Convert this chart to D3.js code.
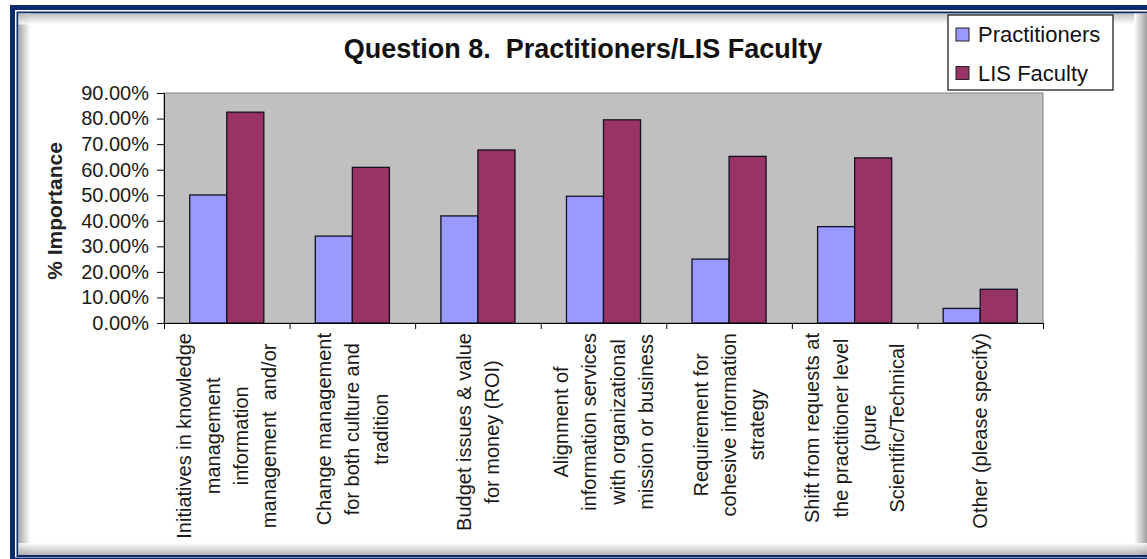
<!DOCTYPE html>
<html>
<head>
<meta charset="utf-8">
<script src="https://cdn.jsdelivr.net/npm/d3@7"></script>
<style>
  html, body { margin: 0; padding: 0; background: #fff; }
  svg { display: block; font-family: Arial, "Liberation Sans", sans-serif; }
</style>
</head>
<body>
<script>
const width = 1147;
const height = 559;

// chart data
const categories = [
    ["Initiatives in knowledge", "management", "information", "management\u00a0 and/or"],
    ["Change management", "for both culture and", "tradition"],
    ["Budget issues & value", "for money (ROI)"],
    ["Alignment of", "information services", "with organizational", "mission or business"],
    ["Requirement for", "cohesive information", "strategy"],
    ["Shift from requests at", "the practitioner level", "(pure", "Scientific/Technical"],
    ["Other (please specify)"]
];
const seriesNames = ["Practitioners", "LIS Faculty"];
const practitioners = [0.501, 0.340, 0.419, 0.496, 0.250, 0.377, 0.057];
const lisFaculty = [0.825, 0.609, 0.677, 0.795, 0.652, 0.646, 0.132];
const yTicks = [0, 0.1, 0.2, 0.3, 0.4, 0.5, 0.6, 0.7, 0.8, 0.9];
const colors = ["#9999FF", "#993366"];

const plot = { left: 164, right: 1043, top: 93, bottom: 323 };

let svg = d3.select("body")
    .append("svg")
    .attr("width", width)
    .attr("height", height);

// frame: double navy border + inner shadow
const defs = svg.append("defs");
function grad(id, x1, y1, x2, y2, from, to) {
    const g = defs.append("linearGradient").attr("id", id)
        .attr("x1", x1).attr("y1", y1).attr("x2", x2).attr("y2", y2);
    g.append("stop").attr("offset", "0%").attr("stop-color", from);
    g.append("stop").attr("offset", "100%").attr("stop-color", to);
}
grad("shL", 0, 0, 1, 0, "#a8a8a8", "#ffffff");
grad("shT", 0, 0, 0, 1, "#b0b0b0", "#ffffff");
grad("shR", 0, 0, 1, 0, "#ffffff", "#a0a0a0");
grad("shB", 0, 0, 0, 1, "#ffffff", "#a8a8a8");

svg.append("rect").attr("x", 10).attr("y", 5).attr("width", 1150).attr("height", 560).attr("fill", "#0d2a6c");
svg.append("rect").attr("x", 15).attr("y", 10).attr("width", 1140).attr("height", 547.5).attr("fill", "#ffffff");
svg.append("rect").attr("x", 16.5).attr("y", 11.5).attr("width", 1140).attr("height", 545.5).attr("fill", "#0d2a6c");
svg.append("rect").attr("x", 18.5).attr("y", 13.5).attr("width", 1130).attr("height", 541.5).attr("fill", "#ffffff");
svg.append("rect").attr("x", 18.5).attr("y", 13.5).attr("width", 12).attr("height", 541.5).attr("fill", "url(#shL)");
svg.append("rect").attr("x", 18.5).attr("y", 13.5).attr("width", 1130).attr("height", 11).attr("fill", "url(#shT)").attr("opacity", 0.8);
svg.append("rect").attr("x", 1134).attr("y", 13.5).attr("width", 13).attr("height", 541.5).attr("fill", "url(#shR)");
svg.append("rect").attr("x", 18.5).attr("y", 543).attr("width", 1130).attr("height", 12).attr("fill", "url(#shB)").attr("opacity", 0.85);

// scales
const x0 = d3.scaleBand()
    .domain(d3.range(categories.length))
    .range([plot.left, plot.right])
    .paddingInner(0.41)
    .paddingOuter(0.205);
const x1 = d3.scaleBand()
    .domain(seriesNames)
    .range([0, x0.bandwidth()]);
const y = d3.scaleLinear()
    .domain([0, 0.9])
    .range([plot.bottom, plot.top]);
const xEdges = d3.scaleLinear()
    .domain([0, categories.length])
    .range([plot.left, plot.right]);

// plot area
svg.append("rect")
    .attr("x", plot.left).attr("y", plot.top)
    .attr("width", plot.right - plot.left).attr("height", plot.bottom - plot.top)
    .attr("fill", "#C0C0C0")
    .attr("stroke", "#808080")
    .attr("stroke-width", 1);

// bars
const data = categories.map((c, i) => ({ i, values: [practitioners[i], lisFaculty[i]] }));
svg.append("g")
    .selectAll("g")
    .data(data)
    .join("g")
    .attr("transform", d => `translate(${x0(d.i)},0)`)
    .selectAll("rect")
    .data(d => d.values.map((v, k) => ({ key: seriesNames[k], v, k })))
    .join("rect")
    .attr("x", d => x1(d.key))
    .attr("y", d => y(d.v))
    .attr("width", x1.bandwidth())
    .attr("height", d => y(0) - y(d.v))
    .attr("fill", d => colors[d.k])
    .attr("stroke", "#111122")
    .attr("stroke-width", 1.3);

// y axis
const yAxis = svg.append("g")
    .attr("transform", `translate(${plot.left},0)`)
    .call(d3.axisLeft(y).tickValues(yTicks).tickFormat(d3.format(".2%")).tickSize(7).tickSizeOuter(0).tickPadding(8));
yAxis.selectAll("text").attr("font-size", 20).attr("fill", "#1a1a1a").attr("font-family", "Arial, 'Liberation Sans', sans-serif");
yAxis.selectAll("line, path").attr("stroke", "#000");

// x axis with ticks at category edges
const xAxis = svg.append("g")
    .attr("transform", `translate(0,${plot.bottom})`)
    .call(d3.axisBottom(xEdges).tickValues(d3.range(categories.length + 1)).tickFormat("").tickSize(6).tickSizeOuter(0));
xAxis.selectAll("line, path").attr("stroke", "#000");

// category labels, rotated, lines centred, block aligned to the axis
const lineStep = 28.3;
const labelTop = 333;
categories.forEach((lines, i) => {
    const cx = x0(i) + x0.bandwidth() / 2;
    const g = svg.append("g")
        .attr("transform", `translate(${cx},${labelTop}) rotate(-90)`)
        .attr("font-size", 20)
        .attr("fill", "#1a1a1a");
    const texts = g.selectAll("text")
        .data(lines)
        .join("text")
        .attr("y", (d, k) => (k - (lines.length - 1) / 2) * lineStep)
        .attr("dy", "0.35em")
        .attr("text-anchor", "middle")
        .text(d => d);
    let maxW = 0;
    texts.each(function () { maxW = Math.max(maxW, this.getComputedTextLength()); });
    texts.attr("x", -maxW / 2);
});

// y axis title
svg.append("text")
    .attr("transform", "translate(55,211) rotate(-90)")
    .attr("text-anchor", "middle")
    .attr("dy", "0.35em")
    .attr("font-size", 21)
    .attr("font-weight", "bold")
    .attr("fill", "#222")
    .text("% Importance");

// title
svg.append("text")
    .attr("x", 583)
    .attr("y", 58)
    .attr("text-anchor", "middle")
    .attr("font-size", 27)
    .attr("font-weight", "bold")
    .attr("fill", "#111")
    .text("Question 8.\u00a0 Practitioners/LIS Faculty");

// legend
const legend = svg.append("g");
legend.append("rect")
    .attr("x", 948).attr("y", 15).attr("width", 165).attr("height", 75)
    .attr("fill", "#fff").attr("stroke", "#222").attr("stroke-width", 1.3);
const items = legend.selectAll("g")
    .data(seriesNames)
    .join("g")
    .attr("transform", (d, k) => `translate(956,${28 + k * 38.5})`);
items.append("rect")
    .attr("width", 13).attr("height", 13)
    .attr("fill", (d, k) => colors[k])
    .attr("stroke", "#222").attr("stroke-width", 1);
items.append("text")
    .attr("x", 22).attr("y", 6.5).attr("dy", "0.36em")
    .attr("font-size", 22)
    .attr("fill", "#111")
    .text(d => d);
</script>
</body>
</html>
